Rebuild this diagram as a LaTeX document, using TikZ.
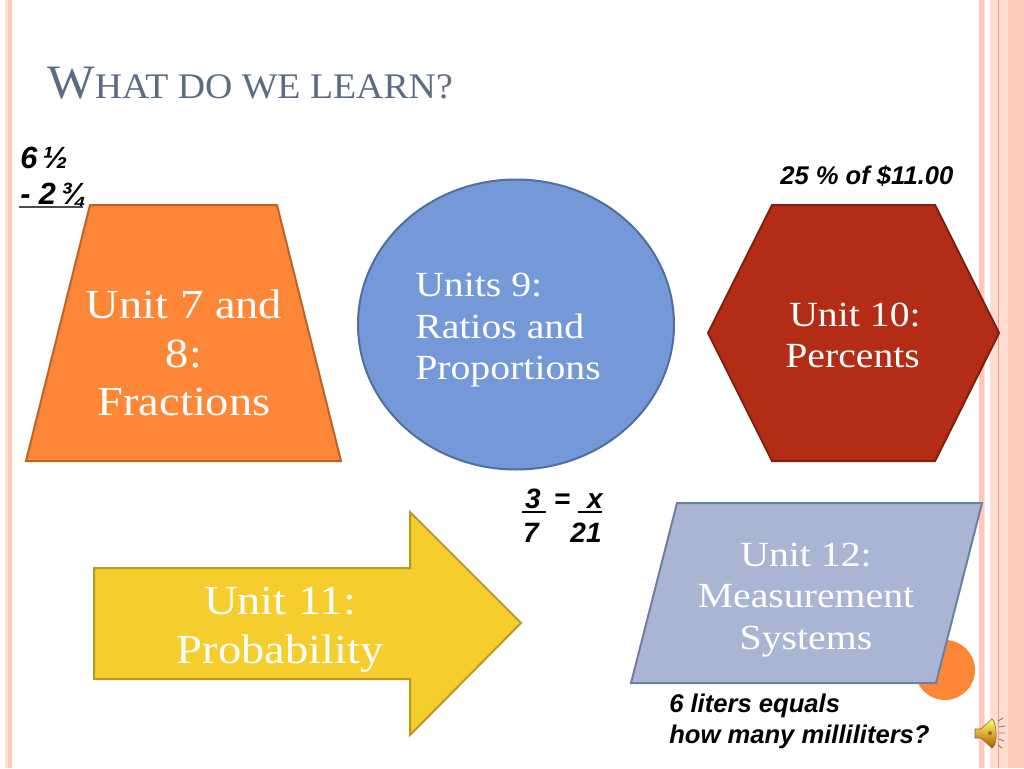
\documentclass[tikz,border=0pt]{standalone}
\usepackage{fontspec}
\setmainfont{Liberation Serif}
\newfontfamily\wideserif[FakeStretch=1.125]{Liberation Serif}
\newfontfamily\titleserif[FakeStretch=1.05]{Liberation Serif}
\newfontfamily\arialfont{Liberation Sans}
\usetikzlibrary{shapes.geometric}
\definecolor{stripA}{HTML}{FBE3D6}
\definecolor{stripB}{HTML}{FFC8BA}
\definecolor{stripC}{HTML}{FFCDBD}
\definecolor{stripLine}{HTML}{E8A080}
\definecolor{titlecol}{HTML}{5A6B82}
\definecolor{orangeF}{HTML}{FE8637}
\definecolor{orangeD}{HTML}{BB6326}
\definecolor{blueF}{HTML}{7598D9}
\definecolor{blueD}{HTML}{4F6F9F}
\definecolor{redF}{HTML}{B32C16}
\definecolor{redD}{HTML}{7F2010}
\definecolor{yellowF}{HTML}{F5CD2D}
\definecolor{yellowD}{HTML}{B89A22}
\definecolor{greyF}{HTML}{A9B5D3}
\definecolor{greyD}{HTML}{6F7F9F}
\tikzset{
  shapeline/.style={line width=1.5pt,line join=miter},
  big/.style={text=white,font=\wideserif\fontsize{31}{36.5}\selectfont,align=center,inner sep=0pt},
  mid/.style={text=white,font=\wideserif\fontsize{26.5}{31}\selectfont,inner sep=0pt},
  note/.style={font=\arialfont\bfseries\itshape\fontsize{19.2}{24}\selectfont,inner sep=0pt,text=black},
  fracnote/.style={font=\arialfont\bfseries\itshape\fontsize{21}{24}\selectfont,inner sep=0pt,text=black},
  fracrule/.style={black,line width=0.8pt}
}
\begin{document}
\begin{tikzpicture}[x=0.75pt,y=-0.75pt]
\useasboundingbox (0,0) rectangle (1024,768);
\fill[white] (0,0) rectangle (1024,768);
% borders
\fill[stripA] (5,0) rectangle (8,768);
\fill[stripB] (8,0) rectangle (12,768);
\fill[stripB] (979,0) rectangle (984,768);
\fill[stripA] (984,0) rectangle (985,768);
\fill[stripC!70!white] (990,0) rectangle (1008,768);
\fill[stripC] (1008,0) rectangle (1024,768);
\draw[stripLine,line width=0.8pt] (998.5,0) -- (998.5,768);
% title
\node[anchor=base west,inner sep=0pt,text=titlecol] (title) at (47,98)
  {\titleserif\fontsize{36}{40}\selectfont W\fontsize{27}{40}\selectfont HAT DO WE LEARN?};
% accent circle (behind parallelogram)
\node[circle,fill=orangeF,minimum size=45pt,inner sep=0pt] (dot) at (945,670) {};
% trapezoid
\filldraw[fill=orangeF,draw=orangeD,shapeline] (90,205) -- (277,205) -- (341,461) -- (26,461) -- cycle;
\node[big] (u78) at (184,353) {Unit 7 and\\8:\\Fractions};
% circle
\filldraw[fill=blueF,draw=blueD,shapeline] (516,324.5) ellipse [x radius=158,y radius=145];
\node[mid,anchor=base west,align=left] (u9) at (415,296) {Units 9:};
\node[mid,anchor=base west] (u9b) at (415,338) {Ratios and};
\node[mid,anchor=base west] (u9c) at (415,379) {Proportions};
% hexagon
\filldraw[fill=redF,draw=redD,shapeline] (772,205) -- (935,205) -- (999,333) -- (935,461) -- (772,461) -- (708,333) -- cycle;
\node[mid,anchor=base west] (u10) at (789,326) {Unit 10:};
\node[mid,anchor=base west] (u10b) at (785,367) {Percents};
% arrow
\filldraw[fill=yellowF,draw=yellowD,shapeline] (94,568) -- (410,568) -- (410,512) -- (521,623) -- (410,735) -- (410,679) -- (94,679) -- cycle;
\node[big] (u11) at (280,630) {Unit 11:\\Probability};
% parallelogram
\filldraw[fill=greyF,draw=greyD,shapeline] (677,503) -- (982,503) -- (936,683) -- (631,683) -- cycle;
\node[mid,align=center] (u12) at (806,600) {\baselineskip=41pt Unit 12:\\Measurement\\Systems};
% notes
\node[note,anchor=base west] (n1) at (20,168) {{\fontsize{23}{24}\selectfont 6\,½}};
\node[note,anchor=base west] (n2) at (20,204) {{\fontsize{23}{24}\selectfont - 2\,¾}};
\draw[black!70,line width=1pt] (19,207) coordinate (ul1) -- (83,207) coordinate (ul2);
\node[note,anchor=base west] (n3) at (780,184) {25 \% of \$11.00};
\node[fracnote,anchor=base] (f3) at (533,508) {3};
\node[fracnote,anchor=base] (feq) at (562,508) {=};
\node[fracnote,anchor=base] (fx) at (595,508) {x};
\node[fracnote,anchor=base] (f7) at (531,542) {7};
\node[fracnote,anchor=base] (f21) at (586,542) {21};
\draw[fracrule] (522,512) -- (546,512);
\draw[fracrule] (578,512) -- (602,512);
\node[note,anchor=base west] (n4) at (669,712) {6 liters equals};
\node[note,anchor=base west] (n5) at (669,743) {how many milliliters?};
% speaker icon
\shade[top color=yellow!60!white,bottom color=orange!70!black,draw=brown!70!black,line width=0.4pt]
  (975,729) -- (981,729) -- (992,719) .. controls (997,722) and (998,745) .. (992,748) -- (981,738) -- (975,738) -- cycle;
\fill[brown!80!black] (990,733) circle (2);
\draw[gray,line width=0.7pt] (998,721) -- (1003,718) (999,727) -- (1005,726) (999,733) -- (1005,733) (999,739) -- (1004,741) (998,745) -- (1002,748);
\end{tikzpicture}
\end{document}
